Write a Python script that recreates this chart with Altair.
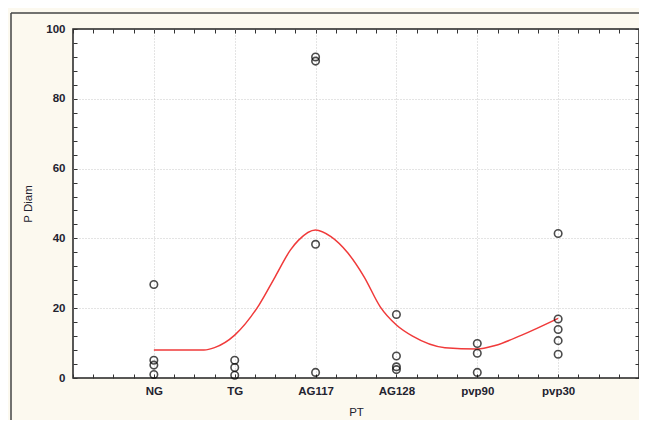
import json
import altair as alt
import pandas as pd

# ---- data ----
categories = ["NG", "TG", "AG117", "AG128", "pvp90", "pvp30"]
ng_vals = [26.8, 5.1, 3.7, 1.0]
tg_vals = [5.1, 3.0, 0.8]
ag117_vals = [92.0, 90.8, 38.3, 1.6]
ag128_vals = [18.2, 6.3, 3.2, 2.4]
pvp90_vals = [9.9, 7.1, 1.6]
pvp30_vals = [41.4, 16.9, 13.9, 10.7, 6.8]

# fitted smooth curve, x in category positions (NG = 1)
curve_x = [1.0, 1.62, 1.75, 2.0, 2.3, 2.5, 2.69, 2.79, 3.0, 3.19, 3.4, 3.6, 3.8,
           4.0, 4.2, 4.6, 5.0, 5.22, 5.55, 6.0]
curve_y = [8.0, 8.0, 8.7, 12.3, 20.9, 29.0, 36.7, 39.5, 42.4, 40.5, 35.8, 29.0,
           20.4, 15.2, 12.0, 8.7, 8.3, 9.3, 12.3, 17.1]

x_ticks = [i * 0.25 for i in range(29)]
y_ticks = list(range(0, 101, 4))

# ---- build tables ----
all_vals = [ng_vals, tg_vals, ag117_vals, ag128_vals, pvp90_vals, pvp30_vals]
rows = []
for i, (cat, vals) in enumerate(zip(categories, all_vals), start=1):
    for v in vals:
        rows.append({"pos": i, "PT": cat, "P Diam": v})
points_df = pd.DataFrame(rows)
curve_df = pd.DataFrame({"pos": curve_x, "P Diam": curve_y})

FONT = "Liberation Sans"
TEXT = "#23232f"

x_scale = alt.Scale(domain=[0, 7], nice=False, zero=False)
y_scale = alt.Scale(domain=[0, 100], nice=False, zero=False)

cat_js = json.dumps(categories)
x_label_expr = (
    f"(datum.value % 1 === 0 && datum.value >= 1 && datum.value <= {len(categories)})"
    f" ? {cat_js}[datum.value - 1] : ''"
)

x_axis_bottom = alt.Axis(
    orient="bottom", values=x_ticks, labelExpr=x_label_expr, title="PT",
    domain=False, offset=-4, tickSize=4, tickColor="#333", tickWidth=1,
    grid=True, gridColor="#c8c8c8", gridDash=[1, 2], gridWidth=1,
    gridOpacity={"condition": {"test": "datum.value % 1 === 0 && datum.value > 0 && datum.value < 7", "value": 1}, "value": 0},
    labelOverlap=False, labelFlush=False, labelPadding=7,
    labelFont=FONT, labelFontSize=11.5, labelFontWeight="bold", labelColor=TEXT,
    titleFont=FONT, titleFontSize=11.5, titleFontWeight="normal", titleColor=TEXT,
    titlePadding=10,
)
y_axis_left = alt.Axis(
    orient="left", values=y_ticks,
    labelExpr="datum.value % 20 === 0 ? datum.label : ''", title="P Diam",
    domain=False, offset=-4, tickSize=4, tickColor="#333", tickWidth=1,
    grid=True, gridColor="#c8c8c8", gridDash=[1, 2], gridWidth=1,
    gridOpacity={"condition": {"test": "datum.value % 20 === 0 && datum.value > 0 && datum.value < 100", "value": 1}, "value": 0},
    labelOverlap=False, labelFlush=False, labelPadding=8,
    labelFont=FONT, labelFontSize=11.5, labelFontWeight="bold", labelColor=TEXT,
    titleFont=FONT, titleFontSize=11.5, titleFontWeight="normal", titleColor=TEXT,
    titlePadding=12,
)
x_axis_top = alt.Axis(
    orient="top", values=x_ticks, labels=False, title=None, domain=False,
    offset=-4, tickSize=4, tickColor="#333", tickWidth=1, grid=False,
)
y_axis_right = alt.Axis(
    orient="right", values=y_ticks, labels=False, title=None, domain=False,
    offset=-4, tickSize=4, tickColor="#333", tickWidth=1, grid=False,
)

points = alt.Chart(points_df).mark_point(
    shape="circle", filled=False, color="#000000", size=56, strokeWidth=1.6
).encode(
    x=alt.X("pos:Q", scale=x_scale, axis=x_axis_bottom),
    y=alt.Y("P Diam:Q", scale=y_scale, axis=y_axis_left),
)

curve = alt.Chart(curve_df).mark_line(
    color="#f03a3a", strokeWidth=1.5, interpolate="monotone"
).encode(
    x=alt.X("pos:Q", scale=x_scale, axis=x_axis_top),
    y=alt.Y("P Diam:Q", scale=y_scale, axis=y_axis_right),
)

frame_df = pd.DataFrame({"k": [0]})
frame_top = alt.Chart(frame_df).mark_rule(color="#444444", strokeWidth=1.5).encode(
    x=alt.value(-62), x2=alt.value(566), y=alt.value(-16)
)
frame_left = alt.Chart(frame_df).mark_rule(color="#444444", strokeWidth=1.5).encode(
    x=alt.value(-62), y=alt.value(-16), y2=alt.value(400)
)

chart = alt.layer(curve, points, frame_top, frame_left).resolve_axis(
    x="independent", y="independent"
).properties(
    width=566, height=349,
    autosize=alt.AutoSizeParams(type="none"),
    padding={"left": 65, "top": 21, "right": 0, "bottom": 42},
    background="#fcf9ef",
).configure_view(
    stroke="#222222", strokeWidth=1.5, fill="#ffffff"
)

chart.save("out.html", embed_options={"renderer": "svg", "actions": False})
